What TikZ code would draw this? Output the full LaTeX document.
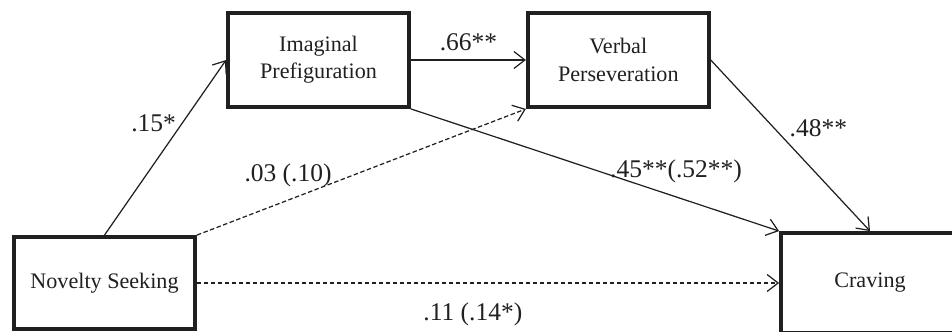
\documentclass[tikz,border=0pt]{standalone}
\usepackage{fontspec}
\setmainfont{Liberation Serif}
\usetikzlibrary{positioning,arrows.meta}
\definecolor{PathInk}{RGB}{32,32,32}
\tikzset{
  flow/.style={-{Straight Barb[length=2.2mm,width=3.4mm]},line width=0.7pt,draw=PathInk},
  dashflow/.style={flow,dash pattern=on 0.09cm off 0.05cm},
  box/.style={draw=PathInk,line width=2.2pt,minimum width=3.62cm,
    minimum height=1.88cm,align=center,text=PathInk,
    font=\fontsize{12.6}{15.5}\selectfont},
  coef/.style={text=PathInk,font=\fontsize{14.5}{17}\selectfont}
}

\begin{document}
\begin{tikzpicture}[x=0.02cm,y=-0.02cm]
  \useasboundingbox (0,0) rectangle (952,331);
  \node[box] (imag) at (318.5,60) {Imaginal\\Prefiguration};
  \node[box,right=2.3cm of imag] (verbal) {Verbal\\Perseveration};
  \node[box,minimum height=1.84cm] (novelty) at (104.5,283) {Novelty Seeking};
  \node[box,minimum width=3.56cm,minimum height=2cm] (craving) at (870,283) {Craving};

  \draw[flow] (novelty.north) -- node[coef,pos=0.64,left]{.15*} (imag.west);
  \draw[flow] (imag) -- node[coef,above=1.5pt]{.66**} (verbal);
  \draw[dashflow] (novelty.north east) -- node[coef,pos=0.277,above=4pt]{.03 (.10)} (verbal.south west);
  \draw[flow] (imag.south east) -- node[coef,pos=0.72,above=4pt]{.45**(.52**)} (craving.north west);
  \draw[flow] (verbal.east) -- node[coef,pos=0.4,right=5pt]{.48**} (craving.north);
  \draw[dashflow] (novelty) -- node[coef,pos=0.474,below=7.7pt]{.11 (.14*)} (craving);
\end{tikzpicture}
\end{document}
